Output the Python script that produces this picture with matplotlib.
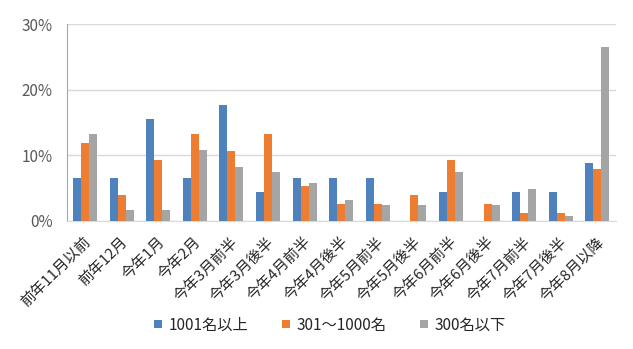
import numpy as np
import matplotlib
matplotlib.use("Agg")
import matplotlib.pyplot as plt
import matplotlib.transforms as mtransforms
from matplotlib.ticker import PercentFormatter, MultipleLocator

plt.rcParams['font.family'] = ['Noto Sans CJK JP', 'DejaVu Sans']

categories = ["前年11月以前", "前年12月", "今年1月", "今年2月", "今年3月前半",
              "今年3月後半", "今年4月前半", "今年4月後半", "今年5月前半", "今年5月後半",
              "今年6月前半", "今年6月後半", "今年7月前半", "今年7月後半", "今年8月以降"]
series_names = ["1001名以上", "301～1000名", "300名以下"]
large = [6.6, 6.6, 15.6, 6.6, 17.7, 4.4, 6.6, 6.6, 6.6, 0.0, 4.4, 0.0, 4.4, 4.4, 8.8]
medium = [11.9, 4.0, 9.3, 13.3, 10.7, 13.3, 5.3, 2.6, 2.6, 4.0, 9.3, 2.6, 1.2, 1.2, 7.9]
small = [13.3, 1.7, 1.7, 10.8, 8.2, 7.5, 5.8, 3.2, 2.4, 2.4, 7.5, 2.4, 4.9, 0.8, 26.5]
colors = ["#4F81BD", "#ED7D31", "#A5A5A5"]

fig = plt.figure(figsize=(6.33, 3.49), dpi=100)
ax = fig.add_axes([0.1054, 0.3668, 0.8673, 0.5632])

x = np.arange(len(categories))
w = 0.22
for i, (vals, name, c) in enumerate(zip([large, medium, small], series_names, colors)):
    ax.bar(x + (i - 1) * w, vals, width=w, color=c, label=name, zorder=3)

ax.set_xlim(-0.5, len(categories) - 0.5)
ax.set_ylim(0, 30)
ax.yaxis.set_major_locator(MultipleLocator(10))
ax.yaxis.set_major_formatter(PercentFormatter(decimals=0))
ax.grid(axis='y', color='#D9D9D9', linewidth=1, zorder=0)

for s in ['top', 'right']:
    ax.spines[s].set_visible(False)
ax.spines['left'].set_color('#A6A6A6')
ax.spines['bottom'].set_color('#D9D9D9')

ax.tick_params(axis='y', length=0, pad=10, labelsize=11, labelcolor='#595959')
ax.tick_params(axis='x', length=0, pad=10, labelsize=10.8, labelcolor='#262626')
ax.set_xticks(x)
ax.set_xticklabels(categories, rotation=45, ha='right', va='top', rotation_mode='anchor')
shift = mtransforms.ScaledTranslation(-1 / 100, 0, fig.dpi_scale_trans)
for lbl in ax.get_xticklabels():
    lbl.set_transform(lbl.get_transform() + shift)

ax.legend(loc='center', bbox_to_anchor=(330 / 633, 1 - 325 / 349),
          bbox_transform=fig.transFigure, ncol=3, frameon=False,
          fontsize=11, handlelength=0.5, handleheight=0.5, handletextpad=0.45,
          columnspacing=2.2, labelcolor='#262626')

fig.savefig("out.png", dpi=100)
